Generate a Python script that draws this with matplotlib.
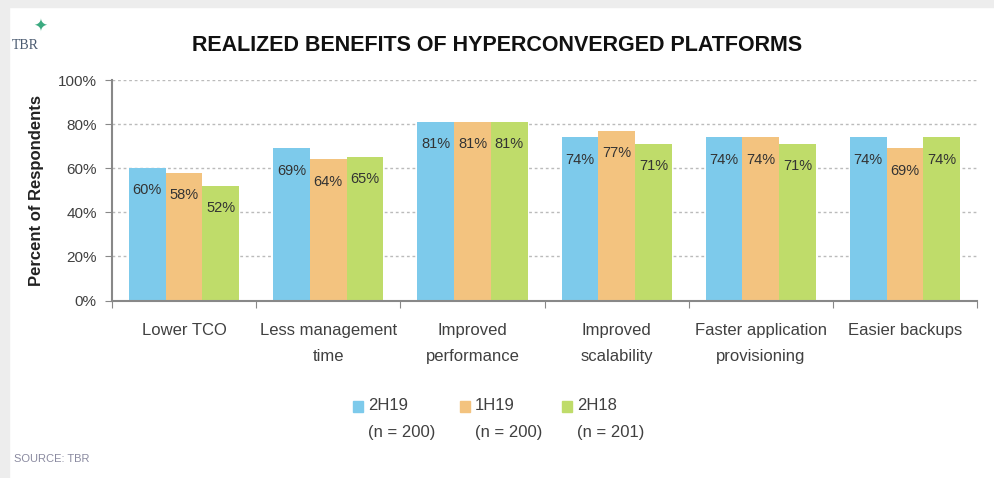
import numpy as np
import matplotlib
matplotlib.use('Agg')
import matplotlib.pyplot as plt
from matplotlib.patches import Rectangle

plt.rcParams['font.family'] = ['Liberation Sans', 'DejaVu Sans']

categories = ['Lower TCO', 'Less management\ntime', 'Improved\nperformance',
              'Improved\nscalability', 'Faster application\nprovisioning', 'Easier backups']
series_names = ['2H19\n(n = 200)', '1H19\n(n = 200)', '2H18\n(n = 201)']
v_2h19 = [60, 69, 81, 74, 74, 74]
v_1h19 = [58, 64, 81, 77, 74, 69]
v_2h18 = [52, 65, 81, 71, 71, 74]
yticks = [0, 20, 40, 60, 80, 100]

colors = ['#7DCAEB', '#F3C37F', '#BFDC6A']
txt = '#404040'

fig = plt.figure(figsize=(9.94, 4.78), dpi=100)
# light gray frame at top / left like the screenshot
fig.patches.append(Rectangle((0, 0), 0.009, 1, transform=fig.transFigure, color='#EDEDED', zorder=0))
fig.patches.append(Rectangle((0, 0.985), 1, 0.015, transform=fig.transFigure, color='#EDEDED', zorder=0))

ax = fig.add_axes([0.1127, 0.3713, 0.8703, 0.4613])
x = np.arange(len(categories))
w = 0.255
for i, (vals, c) in enumerate(zip([v_2h19, v_1h19, v_2h18], colors)):
    bars = ax.bar(x + (i - 1) * w, vals, w, color=c, zorder=2)
    for b, v in zip(bars, vals):
        ax.annotate(f'{v}%', (b.get_x() + b.get_width() / 2, v), xytext=(0, -16),
                    textcoords='offset points', ha='center', va='center',
                    fontsize=10.5, color='#333333')

ax.set_xlim(-0.5, len(categories) - 0.5)
ax.set_ylim(0, 100)
ax.set_yticks(yticks)
ax.set_yticklabels([f'{t}%' for t in yticks], fontsize=11, color=txt)
ax.yaxis.grid(True, linestyle=(0, (2, 2)), color='#BBBBBB', linewidth=1, zorder=0)
ax.set_axisbelow(True)
ax.set_xticks(np.arange(len(categories) + 1) - 0.5)
ax.set_xticklabels([])
ax.set_xticks(x, minor=True)
ax.set_xticklabels(categories, minor=True, fontsize=12, color=txt, linespacing=1.95)
ax.tick_params(axis='x', which='minor', length=0, pad=16)
ax.tick_params(axis='x', which='major', length=5, color='#888888')
ax.tick_params(axis='y', length=5, color='#888888', pad=6)
for s in ['top', 'right']:
    ax.spines[s].set_visible(False)
for s in ['left', 'bottom']:
    ax.spines[s].set_color('#888888')
    ax.spines[s].set_linewidth(1.5)

ax.set_ylabel('Percent of Respondents', fontsize=12, fontweight='bold', color='#222222', labelpad=10)

fig.text(0.5, 0.905, 'REALIZED BENEFITS OF HYPERCONVERGED PLATFORMS', ha='center', va='center',
         fontsize=15.5, fontweight='bold', color='#111111')

# legend: square aligned with first line of each two-line entry
leg_x = [353, 460, 562]
H = 478.0
for lx, name, c in zip(leg_x, series_names, colors):
    fig.patches.append(Rectangle((lx / 994, 1 - 412 / H), 10 / 994, 11 / H,
                                 transform=fig.transFigure, color=c))
    fig.text((lx + 15) / 994, 1 - 398 / H, name, fontsize=12, color=txt,
             va='top', ha='left', linespacing=2.0)

fig.text(0.014, 0.04, 'SOURCE: TBR', fontsize=8, color='#8A8AA0', va='center')
fig.text(0.012, 0.905, 'TBR', fontsize=10, family='Liberation Serif', color='#4A5A70', va='center')
fig.text(0.040, 0.945, '\u2726', fontsize=12, family='DejaVu Sans', color='#3BAA80', ha='center', va='center')

fig.savefig('out.png', dpi=100)
